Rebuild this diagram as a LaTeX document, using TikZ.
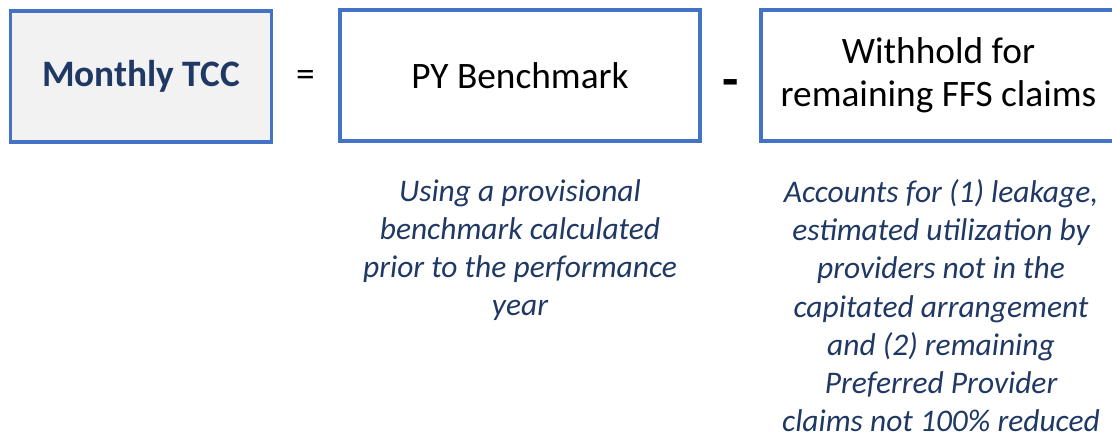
\documentclass[tikz,border=0pt]{standalone}
\usepackage{fontspec}
\setmainfont{Carlito}
\usepackage{tikz}
\usetikzlibrary{positioning}
\definecolor{cEdge}{HTML}{4472C4}
\definecolor{cGrey}{HTML}{F2F2F2}
\definecolor{cNavy}{HTML}{1F3864}
\tikzset{
  termbox/.style={draw=cEdge,line width=2.6pt,fill=white,align=center,inner sep=0pt,
                  minimum height=98.25pt,font=\fontsize{28}{32.3}\selectfont},
  totbox/.style ={termbox,fill=cGrey,font=\fontsize{28}{32.3}\selectfont\bfseries,text=cNavy},
  opsign/.style ={inner sep=0pt,text=black},
  note/.style   ={align=center,inner sep=0pt,anchor=north,text=cNavy,
                  font=\fontsize{23.6}{28.7}\selectfont\itshape},
}
\begin{document}
\begin{tikzpicture}[x=0.75pt,y=-0.75pt]
\useasboundingbox (0,0) rectangle (1112,436);
\node[totbox,minimum width=196.1pt]  (tcc)   at (141,76.5)   {Monthly TCC};
\node[termbox,minimum width=270pt]   (bench) at (520,75.5)   {PY Benchmark};
\node[termbox,minimum width=266.25pt](wh)    at (938.5,75.5) {Withhold for\\remaining FFS claims};
\node[opsign,font=\fontsize{28}{32}\selectfont]           (eq)    at (305.5,78)   {=};
\node[opsign,font=\fontsize{40}{48}\selectfont\bfseries]  (minus) at (730.5,89)   {-};
\node[note] (benchnote) at (520,179) {Using a provisional\\benchmark calculated\\prior to the performance\\year};
\node[note] (whnote)    at (941,179) {Accounts for (1) leakage,\\estimated utilization by\\providers not in the\\capitated arrangement\\and (2) remaining\\Preferred Provider\\claims not 100\% reduced};
\end{tikzpicture}
\end{document}
